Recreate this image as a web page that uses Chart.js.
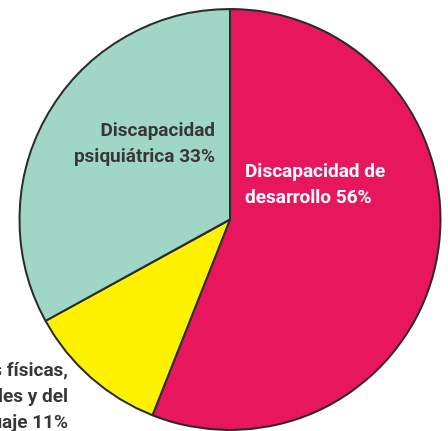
<!DOCTYPE html>
<html>
<head>
<meta charset="utf-8">
<script src="https://cdn.jsdelivr.net/npm/chart.js@4"></script>
<style>
  html, body { margin: 0; padding: 0; background: #ffffff; }
  #wrap { width: 448px; height: 431px; position: relative; }
</style>
</head>
<body>
<div id="wrap"><canvas id="c" width="448" height="431"></canvas></div>
<script>
const categories = ['Discapacidad de desarrollo', 'Discapacidades físicas, sensoriales y del lenguaje', 'Discapacidad psiquiátrica'];
const values = [56, 11, 33];
const colors = ['#E8175D', '#FFF200', '#A0D6C6'];
const labelLines = [
  ['Discapacidad de', 'desarrollo'],
  ['Discapacidades físicas,', 'sensoriales y del', 'lenguaje'],
  ['Discapacidad', 'psiquiátrica']
];

const labelPlugin = {
  id: 'sliceLabels',
  afterDatasetsDraw(chart) {
    const ctx = chart.ctx;
    const arc = chart.getDatasetMeta(0).data[0];
    const cx = arc.x, cy = arc.y;
    const conf = [
      { dx: 15, dy: -43, align: 'left', color: '#ffffff' },
      { dx: -162, dy: 156, align: 'right', color: '#363636' },
      { dx: -15, dy: -84, align: 'right', color: '#363636' }
    ];
    ctx.save();
    ctx.font = 'bold 19px Roboto, "DejaVu Sans", sans-serif';
    ctx.textBaseline = 'alphabetic';
    labelLines.forEach((lines, i) => {
      const c = conf[i];
      ctx.fillStyle = c.color;
      ctx.textAlign = c.align;
      const full = lines.slice();
      full[full.length - 1] = full[full.length - 1] + ' ' + values[i] + '%';
      full.forEach((t, j) => {
        ctx.fillText(t, cx + c.dx, cy + c.dy + j * 26);
      });
    });
    ctx.restore();
  }
};

new Chart(document.getElementById('c'), {
  type: 'pie',
  data: {
    labels: categories,
    datasets: [{
      data: values,
      backgroundColor: colors,
      borderColor: '#2b2b2b',
      borderWidth: 2
    }]
  },
  options: {
    responsive: false,
    animation: false,
    layout: { padding: { left: 18, right: 6, top: 8, bottom: 0 } },
    plugins: {
      legend: { display: false },
      tooltip: { enabled: false }
    }
  },
  plugins: [labelPlugin]
});
</script>
</body>
</html>
